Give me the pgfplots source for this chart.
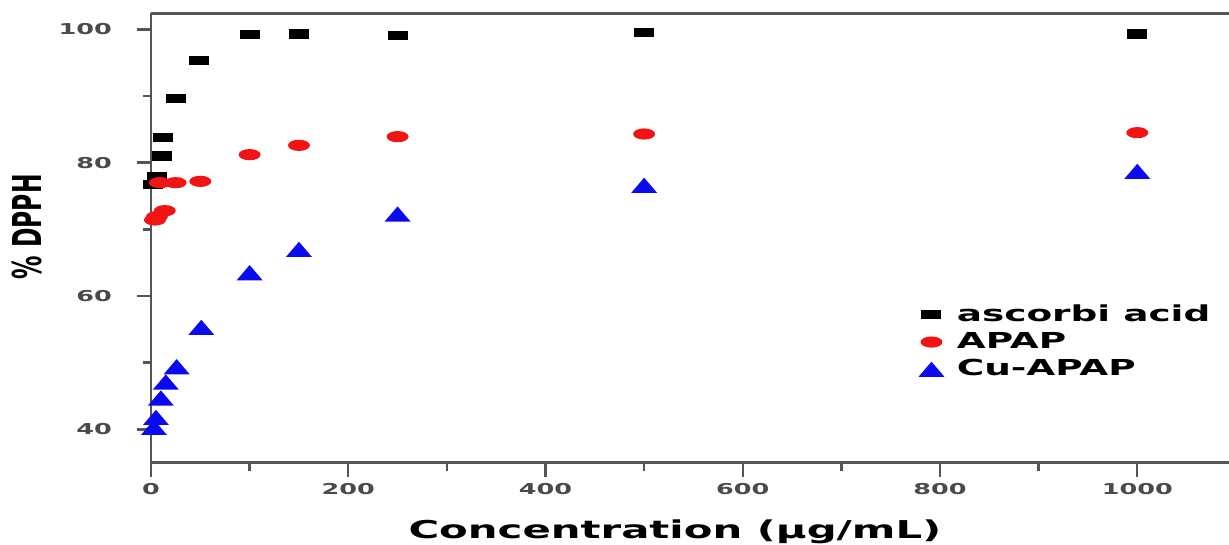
\documentclass[border=0pt]{standalone}
\usepackage{fontspec}
\setmainfont{DejaVu Sans}[FakeStretch=1.7]
\newfontfamily\plainfont{DejaVu Sans}
\usepackage{graphicx}
\usepackage{pgfplots}
\pgfplotsset{compat=1.18}
\usetikzlibrary{calc}

\definecolor{axgray}{HTML}{555555}
\definecolor{tkgray}{HTML}{4A4A4A}
\definecolor{dred}{HTML}{F01414}
\definecolor{dblue}{HTML}{0A0AF0}

% flat marks, the reference is stretched sideways
\pgfdeclareplotmark{osq}{%
  \pgfpathrectangle{\pgfqpoint{-5pt}{-2.3pt}}{\pgfqpoint{10pt}{4.6pt}}%
  \pgfusepathqfill}
\pgfdeclareplotmark{oell}{%
  \pgfpathellipse{\pgfpointorigin}{\pgfqpoint{5.5pt}{0pt}}{\pgfqpoint{0pt}{2.8pt}}%
  \pgfusepathqfill}
\pgfdeclareplotmark{otri}{%
  \pgfpathmoveto{\pgfqpoint{0pt}{3.8pt}}%
  \pgfpathlineto{\pgfqpoint{6.5pt}{-3.8pt}}%
  \pgfpathlineto{\pgfqpoint{-6.5pt}{-3.8pt}}%
  \pgfpathclose\pgfusepathqfill}

\begin{document}
\begin{tikzpicture}
\begin{axis}[
    name=ax,
    scale only axis,
    width=539pt, height=224.7pt,
    xmin=0, xmax=1093, ymin=35, ymax=102.4,
    axis x line=box, axis y line=left,
    axis line style={-, axgray, line width=1.4pt},
    tick align=outside, xtick pos=left, ytick pos=left,
    xtick={0,200,...,1000}, minor xtick={100,300,...,900},
    ytick={40,60,80,100}, minor ytick={50,70,90},
    major tick length=7pt, minor tick length=4pt,
    every tick/.style={axgray, line width=1.2pt},
    tick label style={font=\fontsize{7.5}{8}\selectfont\bfseries, text=tkgray},
    yticklabel style={xshift=-9pt},
    /pgf/number format/1000 sep={},
    /pgf/number format/assume math mode=true,
    xlabel={Concentration (µg/mL)},
    xlabel style={at={(axis description cs:0.486,-0.1676)}, anchor=base,
        font=\fontsize{12.3}{14}\selectfont\bfseries},
    ylabel={\plainfont\bfseries\fontsize{11.7}{13}\selectfont\scalebox{1}[1.7]{\% DPPH}},
    every axis y label/.style={at={(axis description cs:-0.115,0.525)},
        rotate=90, anchor=center},
    legend style={draw=none, fill=none, at={(axis description cs:0.706,0.37)},
        anchor=north west, font=\fontsize{11}{13}\selectfont\bfseries,
        row sep=0pt},
    legend cell align=left,
    legend image code/.code={\draw[#1] plot coordinates {(0pt,0pt)}; \path (10.5pt,0pt);},
]
\addplot[only marks, mark=osq, black] coordinates {
    (2,76.7) (6,77.9) (11,81.0) (12.5,83.8) (25,89.6) (49,95.3)
    (100,99.2) (150,99.3) (250,99.1) (500,99.55) (1000,99.3)};
\addlegendentry{ascorbi acid}
\addplot[only marks, mark=oell, dred] coordinates {
    (4,71.4) (6,71.9) (14,72.8) (9,77.0) (25,77.0) (50,77.2)
    (100,81.2) (150,82.6) (250,83.9) (500,84.3) (1000,84.5)};
\addlegendentry{APAP}
\addplot[only marks, mark=otri, dblue] coordinates {
    (3,40.3) (5,41.8) (10,44.7) (15,47.1) (26,49.4) (51,55.3)
    (100,63.5) (150,67.0) (250,72.3) (500,76.6) (1000,78.7)};
\addlegendentry{Cu-APAP}
\end{axis}
\pgfresetboundingbox
\useasboundingbox ($(ax.south west)+(-75.5pt,-40.65pt)$) rectangle ($(ax.north east)+(0pt,6.65pt)$);
\end{tikzpicture}
\end{document}
